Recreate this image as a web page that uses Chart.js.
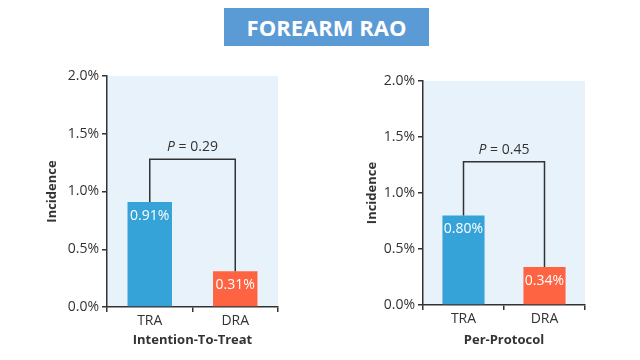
<!DOCTYPE html>
<html>
<head>
<meta charset="utf-8">
<script src="https://cdn.jsdelivr.net/npm/chart.js@4"></script>
<style>
  body { margin: 0; width: 640px; height: 360px; background: #fff; position: relative; overflow: hidden; font-family: "Open Sans", sans-serif; }
  .title { position: absolute; left: 224px; top: 8px; width: 205px; height: 38px; background: #5b9bd5; color: #fff; font-weight: bold; font-size: 22px; line-height: 38px; text-align: center; }
  .box { position: absolute; top: 60px; width: 310px; height: 300px; }
</style>
</head>
<body>
<div class="title">FOREARM RAO</div>
<div class="box" style="left:0px"><canvas id="itt"></canvas></div>
<div class="box" style="left:320px"><canvas id="pp"></canvas></div>
<script>
const categories = ['TRA', 'DRA'];
const ittValues = [0.91, 0.31];
const ppValues = [0.80, 0.34];
const pLabels = ['0.29', '0.45'];
const bracketLevels = [1.28, 1.28];
const yTicks = [0, 0.5, 1.0, 1.5, 2.0];
const barColors = ['#35a3d8', '#fe6442'];
const dark = '#333333';

const annotate = {
    id: 'annotate',
    beforeDraw(chart) {
        const a = chart.chartArea, c = chart.ctx;
        c.save();
        c.fillStyle = '#e8f2fa';
        c.fillRect(a.left, a.top, a.right - a.left, a.bottom - a.top);
        c.restore();
    },
    afterDatasetsDraw(chart, args, opts) {
        const c = chart.ctx;
        const xs = chart.scales.x, ys = chart.scales.y;
        const vals = chart.data.datasets[0].data;
        const x0 = xs.getPixelForValue(0), x1 = xs.getPixelForValue(1);
        const yb = ys.getPixelForValue(opts.level);
        c.save();
        // value labels inside bars
        c.fillStyle = '#ffffff';
        c.font = '14px "Open Sans"';
        c.textAlign = 'center';
        c.textBaseline = 'middle';
        vals.forEach((v, i) => {
            c.fillText(v.toFixed(2) + '%', xs.getPixelForValue(i), ys.getPixelForValue(v) + 14);
        });
        // bracket
        c.strokeStyle = dark;
        c.lineWidth = 1.5;
        c.beginPath();
        c.moveTo(x0, ys.getPixelForValue(vals[0]));
        c.lineTo(x0, yb);
        c.lineTo(x1, yb);
        c.lineTo(x1, ys.getPixelForValue(vals[1]));
        c.stroke();
        // P label
        const rest = ' = ' + opts.p;
        c.font = 'italic 14px "Open Sans"';
        const wp = c.measureText('P').width;
        c.font = '14px "Open Sans"';
        const wr = c.measureText(rest).width;
        const start = (x0 + x1) / 2 - (wp + wr) / 2;
        c.fillStyle = dark;
        c.textAlign = 'left';
        c.font = 'italic 14px "Open Sans"';
        c.fillText('P', start, yb - 12);
        c.font = '14px "Open Sans"';
        c.fillText(rest, start + wp, yb - 12);
        c.restore();
    }
};

function makeChart(id, values, xTitle, p, level, pad, yWidth, xHeight) {
    return new Chart(document.getElementById(id), {
        type: 'bar',
        data: {
            labels: categories,
            datasets: [{
                data: values,
                backgroundColor: barColors,
                barPercentage: 0.52,
                categoryPercentage: 1.0
            }]
        },
        plugins: [annotate],
        options: {
            responsive: true,
            maintainAspectRatio: false,
            animation: false,
            layout: { padding: pad },
            plugins: {
                legend: { display: false },
                tooltip: { enabled: false },
                annotate: { p: p, level: level }
            },
            scales: {
                x: {
                    afterFit: s => { s.height = xHeight; },
                    ticks: { color: dark, font: { family: 'Open Sans', size: 14 }, padding: 1 },
                    grid: { drawOnChartArea: false, tickLength: 5, color: dark, lineWidth: 1.5 },
                    border: { color: dark, width: 1.5 },
                    title: { display: true, text: xTitle, color: dark, font: { family: 'Open Sans', size: 13, weight: 'bold' }, padding: { top: 0, bottom: 0 } }
                },
                y: {
                    min: 0,
                    max: 2,
                    afterFit: s => { s.width = yWidth; },
                    afterBuildTicks: s => { s.ticks = yTicks.map(v => ({ value: v })); },
                    ticks: {
                        color: dark,
                        font: { family: 'Open Sans', size: 14 },
                        padding: 3,
                        callback: v => v.toFixed(1) + '%'
                    },
                    grid: { drawOnChartArea: false, tickLength: 5, color: dark, lineWidth: 1.5 },
                    border: { color: dark, width: 1.5 },
                    title: { display: true, text: 'Incidence', color: dark, font: { family: 'Open Sans', size: 13, weight: 'bold' }, padding: { top: 4, bottom: 4 } }
                }
            }
        }
    });
}

makeChart('itt', ittValues, 'Intention-To-Treat', pLabels[0], bracketLevels[0],
    { left: 40, right: 32, top: 16, bottom: 12 }, 67, 41);
makeChart('pp', ppValues, 'Per-Protocol', pLabels[1], bracketLevels[1],
    { left: 40, right: 45, top: 21, bottom: 12 }, 63, 43);
</script>
</body>
</html>
